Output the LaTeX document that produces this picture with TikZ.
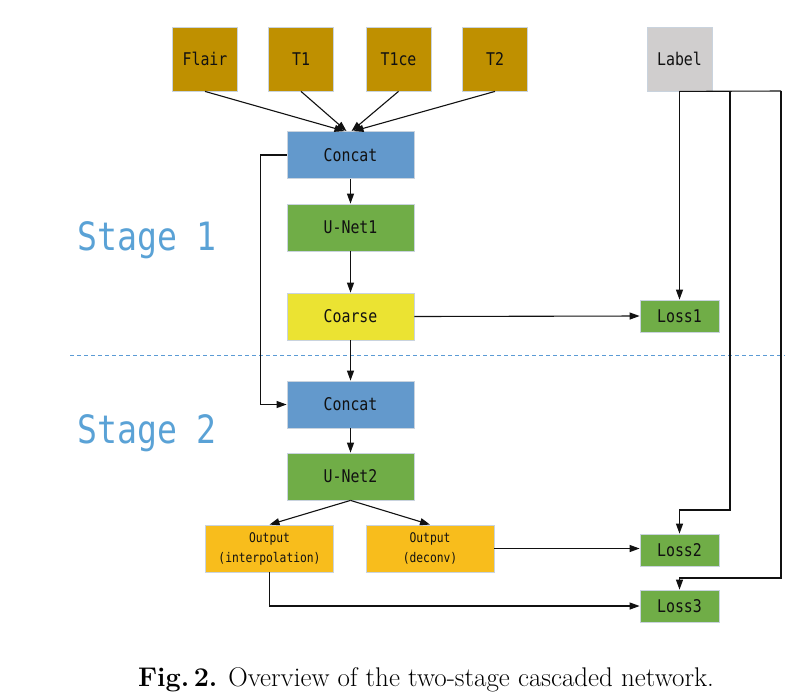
\documentclass[tikz,border=0pt]{standalone}
\usepackage{fontspec}
\newfontfamily\boxfont[FakeStretch=0.85]{DejaVu Sans Mono}
\usetikzlibrary{arrows.meta}
\definecolor{inputgold}{HTML}{BF9000}
\definecolor{labelgray}{HTML}{D0CECE}
\definecolor{concatblue}{HTML}{6399CC}
\definecolor{netgreen}{HTML}{70AD47}
\definecolor{coarseyellow}{HTML}{EBE332}
\definecolor{outorange}{HTML}{F8BD1C}
\definecolor{stageblue}{HTML}{5AA2D6}
\definecolor{dashblue}{HTML}{5B9BD5}
\definecolor{boxedge}{HTML}{C9D3DE}
\definecolor{ink}{HTML}{111111}
\begin{document}
\begin{tikzpicture}[x=1pt,y=-1pt,
  box/.style={draw=boxedge, line width=0.8pt, inner sep=0pt, text=ink,
    font=\boxfont\fontsize{17.5}{20}\selectfont},
  inbox/.style={box, fill=inputgold, minimum width=65pt, minimum height=64pt},
  midbox/.style={box, minimum width=127pt, minimum height=47pt},
  outbox/.style={box, fill=outorange, minimum width=128pt, minimum height=47pt, align=center,
    font=\boxfont\fontsize{13.3}{20}\selectfont},
  lossbox/.style={box, fill=netgreen, minimum width=79pt, minimum height=32pt},
  arr/.style={draw=ink, line width=1.1pt, -{Triangle[length=10pt,width=7pt]}},
  ln/.style={draw=ink, line width=1.1pt},
  stagetext/.style={text=stageblue, anchor=west, inner sep=0pt,
    font=\boxfont\fontsize{39}{42}\selectfont}]
\useasboundingbox (0,0) rectangle (799,697);
\fill[white] (0,0) rectangle (799,697);

% inputs
\node[inbox] (flair) at (205,59) {Flair};
\node[inbox] (t1) at (301,59) {T1};
\node[inbox] (t1ce) at (398.5,59) {T1ce};
\node[inbox] (t2) at (495,59) {T2};
\node[inbox, fill=labelgray] (label) at (679.5,59) {Label};

% stage 1
\node[midbox, fill=concatblue] (c1) at (350.5,155) {Concat};
\node[midbox, fill=netgreen] (u1) at (350.5,227.5) {U-Net1};
\node[midbox, fill=coarseyellow] (coarse) at (350.5,316.5) {Coarse};
\node[lossbox] (loss1) at (679.5,316) {Loss1};

% stage 2
\node[midbox, fill=concatblue] (c2) at (350.5,404.5) {Concat};
\node[midbox, fill=netgreen] (u2) at (350.5,476.5) {U-Net2};
\node[outbox] (interp) at (269.5,548.5) {Output\\(interpolation)};
\node[outbox] (deconv) at (430,548.5) {Output\\(deconv)};
\node[lossbox] (loss2) at (679.5,550) {Loss2};
\node[lossbox] (loss3) at (679.5,606) {Loss3};

% stage labels and divider
\node[stagetext] (s1) at (77,240) {Stage 1};
\node[stagetext] (s2) at (77,433) {Stage 2};
\coordinate (dl) at (70,355);
\coordinate (dr) at (785,355);
\draw[dashblue, line width=1pt, dash pattern=on 4pt off 3pt] (dl) -- (dr);

% input arrows
\draw[arr] (flair.south) -- ([xshift=-6pt]c1.north);
\draw[arr] (t1.south) -- ([xshift=-4pt]c1.north);
\draw[arr] (t1ce.south) -- ([xshift=1pt]c1.north);
\draw[arr] (t2.south) -- ([xshift=3pt]c1.north);

% main chain
\draw[arr] (c1) -- (u1);
\draw[arr] (u1) -- (coarse);
\draw[arr] (coarse) -- (c2);
\draw[arr] (c2) -- (u2);
\draw[arr] (c1.west) -- ++(-26,0) |- (c2.west);
\draw[arr] (coarse.east) -- (loss1.west);
\draw[arr] (u2.south) -- (interp.north);
\draw[arr] (u2.south) -- (deconv.north);
\draw[arr] (deconv.east) -- (deconv.east -| loss2.west);
\draw[arr] (interp.south) |- (loss3.west);

% label connections
\coordinate (r1) at (730,91);
\coordinate (r2) at (781,91);
\draw[ln] (label.south) -- (r2);
\draw[arr] (label.south) -- (loss1.north);
\draw[arr] (r1) -- ++(0,419) -| (loss2.north);
\draw[arr] (r2) -- ++(0,487) -| (loss3.north);

% caption
\node[text=black, font=\fontsize{27}{32}\selectfont] (cap) at (426,680)
  {\textbf{Fig.\,2.} Overview of the two-stage cascaded network.};
\end{tikzpicture}
\end{document}
